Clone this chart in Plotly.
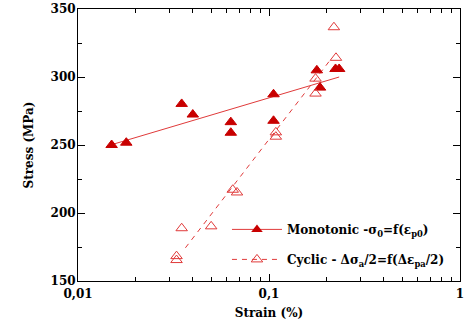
import plotly.graph_objects as go

# Monotonic data (filled triangles)
mono_x = [0.0150, 0.0179, 0.0349, 0.0399, 0.0631, 0.0631, 0.1056, 0.1056, 0.178, 0.185, 0.223, 0.233]
mono_y = [250.0, 251.7, 280.2, 272.4, 266.8, 259.0, 287.3, 267.8, 304.9, 292.2, 305.9, 305.9]
# Monotonic fit line endpoints
mono_fit_x = [0.01425, 0.233]
mono_fit_y = [249.3, 300.0]

# Cyclic data (open triangles)
cyc_x = [0.2187, 0.2242, 0.1752, 0.1752, 0.1086, 0.1086, 0.0646, 0.0680, 0.0349, 0.0498, 0.0328, 0.0328]
cyc_y = [336.6, 314.1, 298.8, 287.8, 259.3, 256.1, 217.1, 215.1, 188.8, 190.2, 168.3, 165.4]
# Cyclic fit line endpoints
cyc_fit_x = [0.0365, 0.2084]
cyc_fit_y = [174.4, 312.2]

x_tickvals = [0.01, 0.1, 1]
x_ticktext = ["0,01", "0,1", "1"]
x_minor = [0.02, 0.03, 0.04, 0.05, 0.06, 0.07, 0.08, 0.09, 0.2, 0.3, 0.4, 0.5, 0.6, 0.7, 0.8, 0.9]
y_tickvals = [150, 200, 250, 300, 350]

label_mono = "Monotonic -σ<sub>0</sub>=f(ε<sub>p0</sub>)"
label_cyc = "Cyclic - Δσ<sub>a</sub>/2=f(Δε<sub>pa</sub>/2)"

mark_col = "#c80000"
line_col = "#e03a3a"
font_fam = "DejaVu Serif"

fig = go.Figure()
fig.add_trace(go.Scatter(x=mono_fit_x, y=mono_fit_y, mode="lines",
                         line=dict(color=line_col, width=1), showlegend=False))
fig.add_trace(go.Scatter(x=cyc_fit_x, y=cyc_fit_y, mode="lines",
                         line=dict(color=line_col, width=1, dash="5px,5px"), showlegend=False))
fig.add_trace(go.Scatter(x=mono_x, y=mono_y, mode="markers",
                         marker=dict(symbol="triangle-up", size=10, color=mark_col,
                                     line=dict(color=mark_col, width=1)),
                         showlegend=False))
fig.add_trace(go.Scatter(x=cyc_x, y=cyc_y, mode="markers",
                         marker=dict(symbol="triangle-up-open", size=10, color=line_col,
                                     line=dict(color=line_col, width=1)),
                         showlegend=False))
# legend entries
fig.add_trace(go.Scatter(x=[None], y=[None], mode="lines+markers", name="<b>" + label_mono + "</b>",
                         legendgroup="a",
                         line=dict(color=line_col, width=1),
                         marker=dict(symbol="triangle-up", size=10, color=mark_col)))
fig.add_trace(go.Scatter(x=[None], y=[None], mode="lines+markers", name="<b>" + label_cyc + "</b>",
                         legendgroup="b",
                         line=dict(color=line_col, width=1, dash="5px,5px"),
                         marker=dict(symbol="triangle-up-open", size=10, color=line_col,
                                     line=dict(color=line_col, width=1))))

fig.update_layout(
    width=468, height=331,
    margin=dict(l=78, r=8, t=9, b=50, autoexpand=False),
    paper_bgcolor="white", plot_bgcolor="white",
    font=dict(family=font_fam, size=12, color="black"),
    showlegend=True,
    legend=dict(x=0.39, y=0.243, xanchor="left", yanchor="top",
                bgcolor="rgba(0,0,0,0)", tracegroupgap=11, itemwidth=50,
                font=dict(family=font_fam, size=12, color="black")),
)
fig.update_xaxes(
    type="log", range=[-2, 0], automargin=False,
    tickvals=x_tickvals, ticktext=["<b>" + t + "</b>" for t in x_ticktext],
    ticks="inside", ticklen=7, tickwidth=1, tickcolor="black",
    showline=True, linecolor="black", linewidth=1, mirror="ticks",
    showgrid=False, zeroline=False, ticklabelstandoff=2,
    tickfont=dict(family=font_fam, size=12),
    minor=dict(tickvals=x_minor, ticks="inside", ticklen=4, tickcolor="black", showgrid=False),
    title=dict(text="<b>Strain (%)</b>", font=dict(family=font_fam, size=12), standoff=8),
)
fig.update_yaxes(
    range=[150, 350], automargin=False,
    tickvals=y_tickvals,
    ticktext=["<b>%d</b>" % v for v in y_tickvals],
    ticks="inside", ticklen=7, tickwidth=1, tickcolor="black",
    showline=True, linecolor="black", linewidth=1, mirror="ticks",
    showgrid=False, zeroline=False, ticklabelstandoff=-1,
    tickfont=dict(family=font_fam, size=12),
    minor=dict(dtick=25, ticks="inside", ticklen=4, tickcolor="black", showgrid=False),
    title=dict(text="<b>Stress (MPa)</b>", font=dict(family=font_fam, size=12), standoff=14),
)

fig.write_html("out.html")
